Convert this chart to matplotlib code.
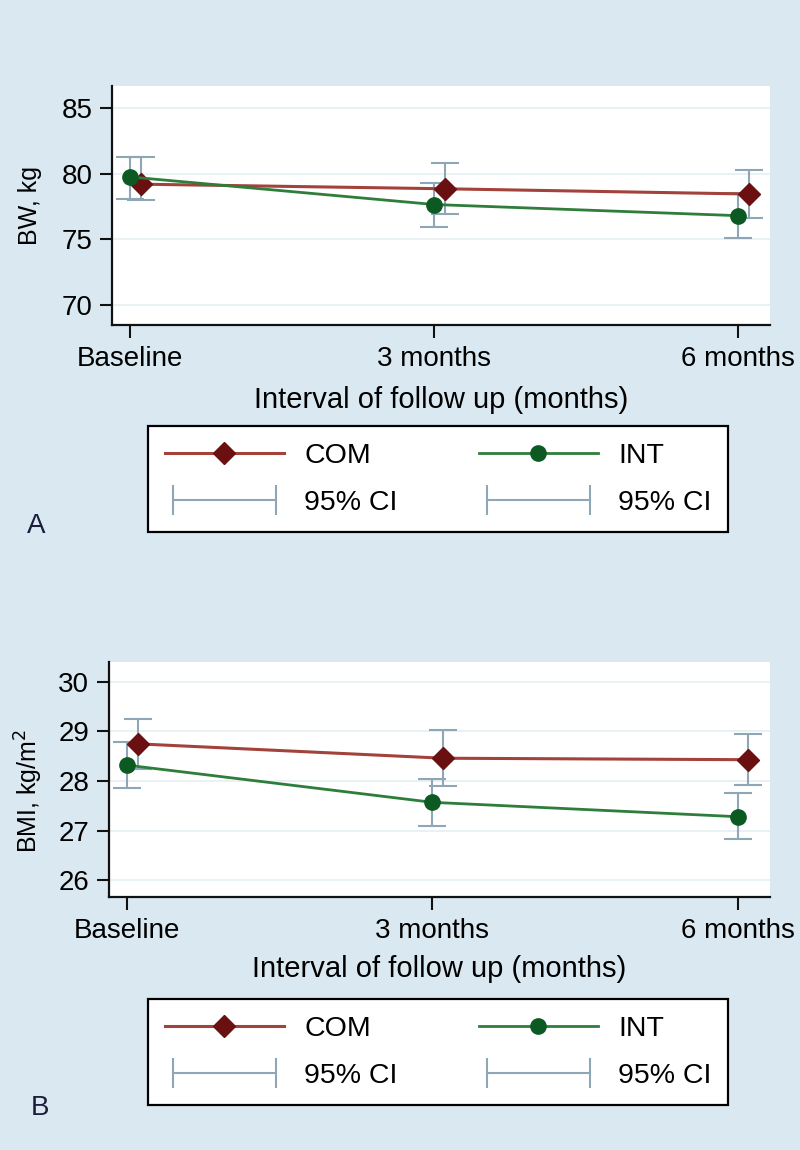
import numpy as np
import matplotlib.pyplot as plt
from matplotlib.lines import Line2D
from matplotlib.legend_handler import HandlerLine2D

plt.rcParams['font.family'] = ['Liberation Sans', 'DejaVu Sans']

# data
visits = ['Baseline', '3 months', '6 months']

bw_com = [79.2, 78.85, 78.45]
bw_com_lo = [78.0, 76.9, 76.6]
bw_com_hi = [81.3, 80.8, 80.3]
bw_int = [79.75, 77.65, 76.8]
bw_int_lo = [78.1, 75.95, 75.1]
bw_int_hi = [81.3, 79.3, 78.5]

bmi_com = [28.75, 28.46, 28.43]
bmi_com_lo = [28.25, 27.9, 27.92]
bmi_com_hi = [29.26, 29.02, 28.94]
bmi_int = [28.32, 27.57, 27.28]
bmi_int_lo = [27.86, 27.1, 26.83]
bmi_int_hi = [28.78, 28.04, 27.76]

bg = '#dae9f1'
com_line = '#a3413b'
com_mk = '#6a1010'
int_line = '#2f7d3b'
int_mk = '#0c5a22'
ci_col = '#8ea6b6'
grid_col = '#e6eff2'
com_shift = 0.035


def panel(ax, com, com_lo, com_hi, intv, int_lo, int_hi, yticks, ylim, ylab):
    x = np.arange(len(visits))
    xc = x + com_shift
    com = np.array(com)
    intv = np.array(intv)
    ax.set_facecolor('white')
    for t in yticks:
        ax.axhline(t, color=grid_col, lw=1.2, zorder=0)
    ax.errorbar(xc, com, yerr=[com - np.array(com_lo), np.array(com_hi) - com],
                fmt='none', ecolor=ci_col, elinewidth=1.5, capsize=10, capthick=1.5, zorder=2)
    ax.errorbar(x, intv, yerr=[intv - np.array(int_lo), np.array(int_hi) - intv],
                fmt='none', ecolor=ci_col, elinewidth=1.5, capsize=10, capthick=1.5, zorder=2)
    ax.plot(xc, com, color=com_line, lw=2.2, marker='D', ms=11,
            mfc=com_mk, mec=com_mk, zorder=3)
    ax.plot(x, intv, color=int_line, lw=2.0, marker='o', ms=11,
            mfc=int_mk, mec=int_mk, zorder=4)
    ax.set_xlim(-0.06, 2.105)
    ax.set_ylim(*ylim)
    ax.set_xticks(x)
    ax.set_xticklabels(visits)
    ax.set_yticks(yticks)
    ax.tick_params(axis='both', labelsize=20, length=9, width=1.5, pad=6, color='#111111')
    ax.tick_params(axis='y', pad=5)
    for s in ['top', 'right']:
        ax.spines[s].set_visible(False)
    for s in ['left', 'bottom']:
        ax.spines[s].set_linewidth(1.6)
        ax.spines[s].set_color('#111111')
    ax.set_xlabel('Interval of follow up (months)', fontsize=21)
    ax.set_ylabel(ylab, fontsize=18)


fig = plt.figure(figsize=(8, 11.5), dpi=100)
fig.patch.set_facecolor(bg)

axA = fig.add_axes([0.14, 0.7174, 0.8225, 0.2078])
panel(axA, bw_com, bw_com_lo, bw_com_hi, bw_int, bw_int_lo, bw_int_hi,
      [70, 75, 80, 85], (68.47, 86.68), 'BW, kg')
axA.xaxis.set_label_coords(0.5, -0.255)
axA.yaxis.set_label_coords(-0.107, 0.5)

axB = fig.add_axes([0.136, 0.22, 0.826, 0.2043])
panel(axB, bmi_com, bmi_com_lo, bmi_com_hi, bmi_int, bmi_int_lo, bmi_int_hi,
      [26, 27, 28, 29, 30], (25.66, 30.40), 'BMI, kg/m$^2$')
axB.xaxis.set_label_coords(0.5, -0.245)
axB.yaxis.set_label_coords(-0.097, 0.45)

# legends
h_com = Line2D([], [], color=com_line, lw=2.2, marker='D', ms=11, mfc=com_mk, mec=com_mk)
h_int = Line2D([], [], color=int_line, lw=2.0, marker='o', ms=11, mfc=int_mk, mec=int_mk)
h_ci1 = Line2D([], [], color=ci_col, lw=1.5, marker='|', ms=22, mew=1.5)
h_ci2 = Line2D([], [], color=ci_col, lw=1.5, marker='|', ms=22, mew=1.5)

for top in [426, 999]:
    leg = fig.legend([h_com, h_ci1, h_int, h_ci2], ['COM', '95% CI', 'INT', '95% CI'],
                     ncol=2, loc='upper left', mode='expand',
                     bbox_to_anchor=(148 / 800, 1 - (top + 106) / 1150, 580 / 800, 106 / 1150),
                     fontsize=20.5, frameon=True, fancybox=False, edgecolor='black',
                     facecolor='white', framealpha=1, handlelength=4.2, handletextpad=0.7,
                     columnspacing=2.0, labelspacing=0.74, borderpad=0.58, borderaxespad=0,
                     handler_map={h_ci1: HandlerLine2D(numpoints=2),
                                  h_ci2: HandlerLine2D(numpoints=2),
                                  h_com: HandlerLine2D(numpoints=1),
                                  h_int: HandlerLine2D(numpoints=1)})
    leg.get_frame().set_linewidth(1.6)

fig.text(36 / 800, 1 - 526 / 1150, 'A', fontsize=20, color='#1c1c3c', ha='center', va='center')
fig.text(40 / 800, 1 - 1108 / 1150, 'B', fontsize=20, color='#1c1c3c', ha='center', va='center')

fig.savefig('out.png', dpi=100, facecolor=bg)
